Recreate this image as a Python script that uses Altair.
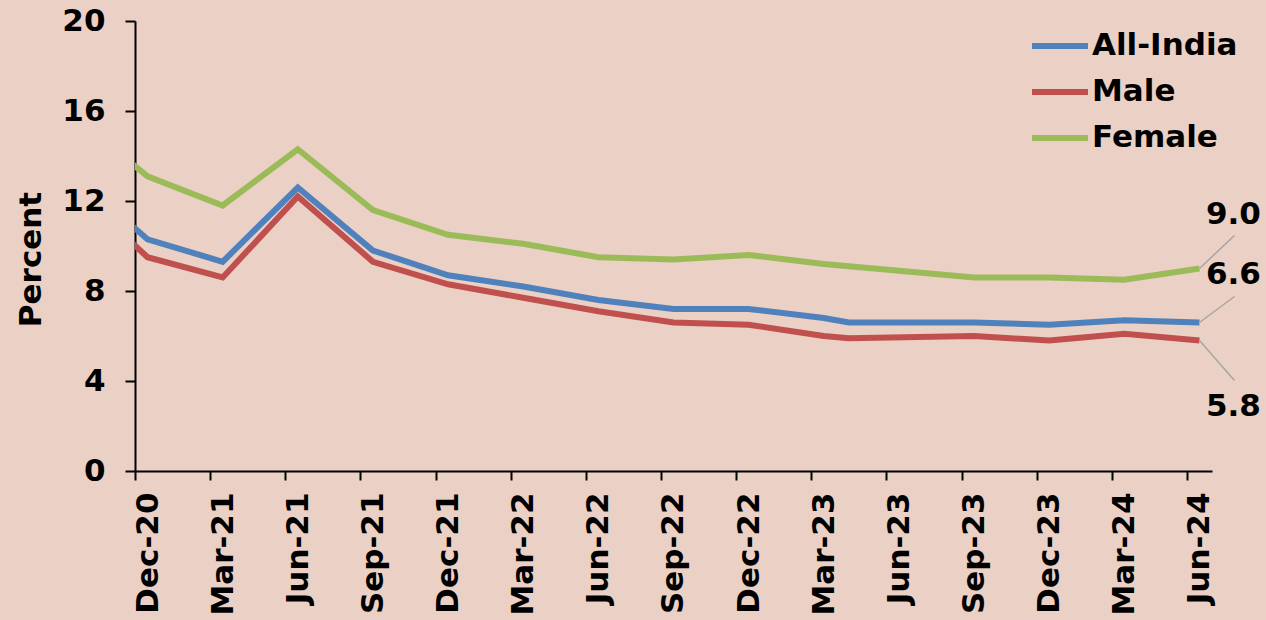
import altair as alt
import pandas as pd

# Quarterly tick labels, one every three months starting at Dec-20
quarter_labels = [
    "Dec-20", "Mar-21", "Jun-21", "Sep-21", "Dec-21", "Mar-22", "Jun-22",
    "Sep-22", "Dec-22", "Mar-23", "Jun-23", "Sep-23", "Dec-23", "Mar-24", "Jun-24",
]

# Month (counted from Dec-20) at which each reading is plotted
months = [-3, 0, 3, 6, 9, 12, 15, 18, 21, 24, 27, 28, 33, 36, 39, 42]

# Unemployment rate, percent
all_india = [13.2, 10.3, 9.3, 12.6, 9.8, 8.7, 8.2, 7.6, 7.2, 7.2, 6.8, 6.6, 6.6, 6.5, 6.7, 6.6]
male = [12.6, 9.5, 8.6, 12.2, 9.3, 8.3, 7.7, 7.1, 6.6, 6.5, 6.0, 5.9, 6.0, 5.8, 6.1, 5.8]
female = [15.8, 13.1, 11.8, 14.3, 11.6, 10.5, 10.1, 9.5, 9.4, 9.6, 9.2, 9.1, 8.6, 8.6, 8.5, 9.0]

series_names = ["All-India", "Male", "Female"]
series_colors = ["#4F81BD", "#C0504D", "#9BBB59"]

rows = []
for name, values in zip(series_names, [all_india, male, female]):
    for m, v in zip(months, values):
        rows.append({"series": name, "month": m, "rate": v})
df = pd.DataFrame(rows)

FONT = "DejaVu Sans"
FS = 31
BG = "#EBD0C5"

label_expr = "[" + ",".join(f"'{s}'" for s in quarter_labels) + "][round(datum.value / 3)]"

x_enc = alt.X(
    "pos:Q",
    scale=alt.Scale(domain=[0, 43], nice=False, zero=False),
    axis=alt.Axis(
        values=list(range(0, 43, 3)),
        labelExpr=label_expr,
        labelAngle=-90,
        labelOffset=13,
        labelPadding=12,
        tickSize=9,
        grid=False,
        title=None,
    ),
)
y_enc = alt.Y(
    "rate:Q",
    scale=alt.Scale(domain=[0, 20], nice=False),
    axis=alt.Axis(
        values=[0, 4, 8, 12, 16, 20],
        tickSize=10,
        labelPadding=20,
        grid=False,
        title="Percent",
        titleAngle=-90,
        titleX=-95,
        titleY=238,
        titleAlign="center",
        titleBaseline="alphabetic",
    ),
)

color_enc = alt.Color(
    "series:N",
    scale=alt.Scale(domain=series_names, range=series_colors),
    legend=alt.Legend(
        title=None,
        orient="none",
        legendX=894,
        legendY=-6,
        symbolType="stroke",
        symbolSize=3136,
        symbolStrokeWidth=6,
        labelFont=FONT,
        labelFontSize=FS,
        labelFontWeight="bold",
        labelColor="black",
        labelOffset=1,
        labelLimit=0,
        rowPadding=-9,
        padding=0,
    ),
)

base = alt.Chart(df).transform_calculate(pos="datum.month + 0.5")

lines = base.mark_line(clip=True, strokeWidth=6).encode(
    x=x_enc, y=y_enc, color=color_enc
)

# End-of-series value callouts: leader offset (dx, dy) and label offset (dx, dy)
callouts = {
    "Female": ((35, -33), (34, -54)),
    "All-India": ((35, -26), (34, -48)),
    "Male": ((35, 40), (34, 66)),
}

layers = [lines]
last = base.transform_filter(f"datum.month == {months[-1]}")
for name, ((lx, ly), (tx, ty)) in callouts.items():
    sel = last.transform_filter(f"datum.series == '{name}'")
    leader = sel.mark_rule(
        color="#A6A6A6", strokeWidth=1.5, x2Offset=lx, y2Offset=ly
    ).encode(
        x="pos:Q", x2="pos:Q", y="rate:Q", y2="rate:Q"
    )
    label = sel.mark_text(
        font=FONT, fontSize=FS, fontWeight="bold", color="black",
        align="center", baseline="middle", dx=tx, dy=ty,
    ).encode(
        x="pos:Q", y="rate:Q", text=alt.Text("rate:Q", format=".1f")
    )
    layers += [leader, label]

chart = (
    alt.layer(*layers)
    .properties(
        width=1077,
        height=450,
        autosize=alt.AutoSizeParams(type="none"),
        padding={"left": 135, "top": 21, "right": 54, "bottom": 149},
        background=BG,
    )
    .configure_view(stroke=None)
    .configure_axis(
        domainColor="black",
        domainWidth=2,
        tickColor="black",
        tickWidth=2,
        labelFont=FONT,
        labelFontSize=FS,
        labelFontWeight="bold",
        labelColor="black",
        titleFont=FONT,
        titleFontSize=FS,
        titleFontWeight="bold",
        titleColor="black",
    )
)

chart.save("out.html", embed_options={"renderer": "svg", "actions": False})
